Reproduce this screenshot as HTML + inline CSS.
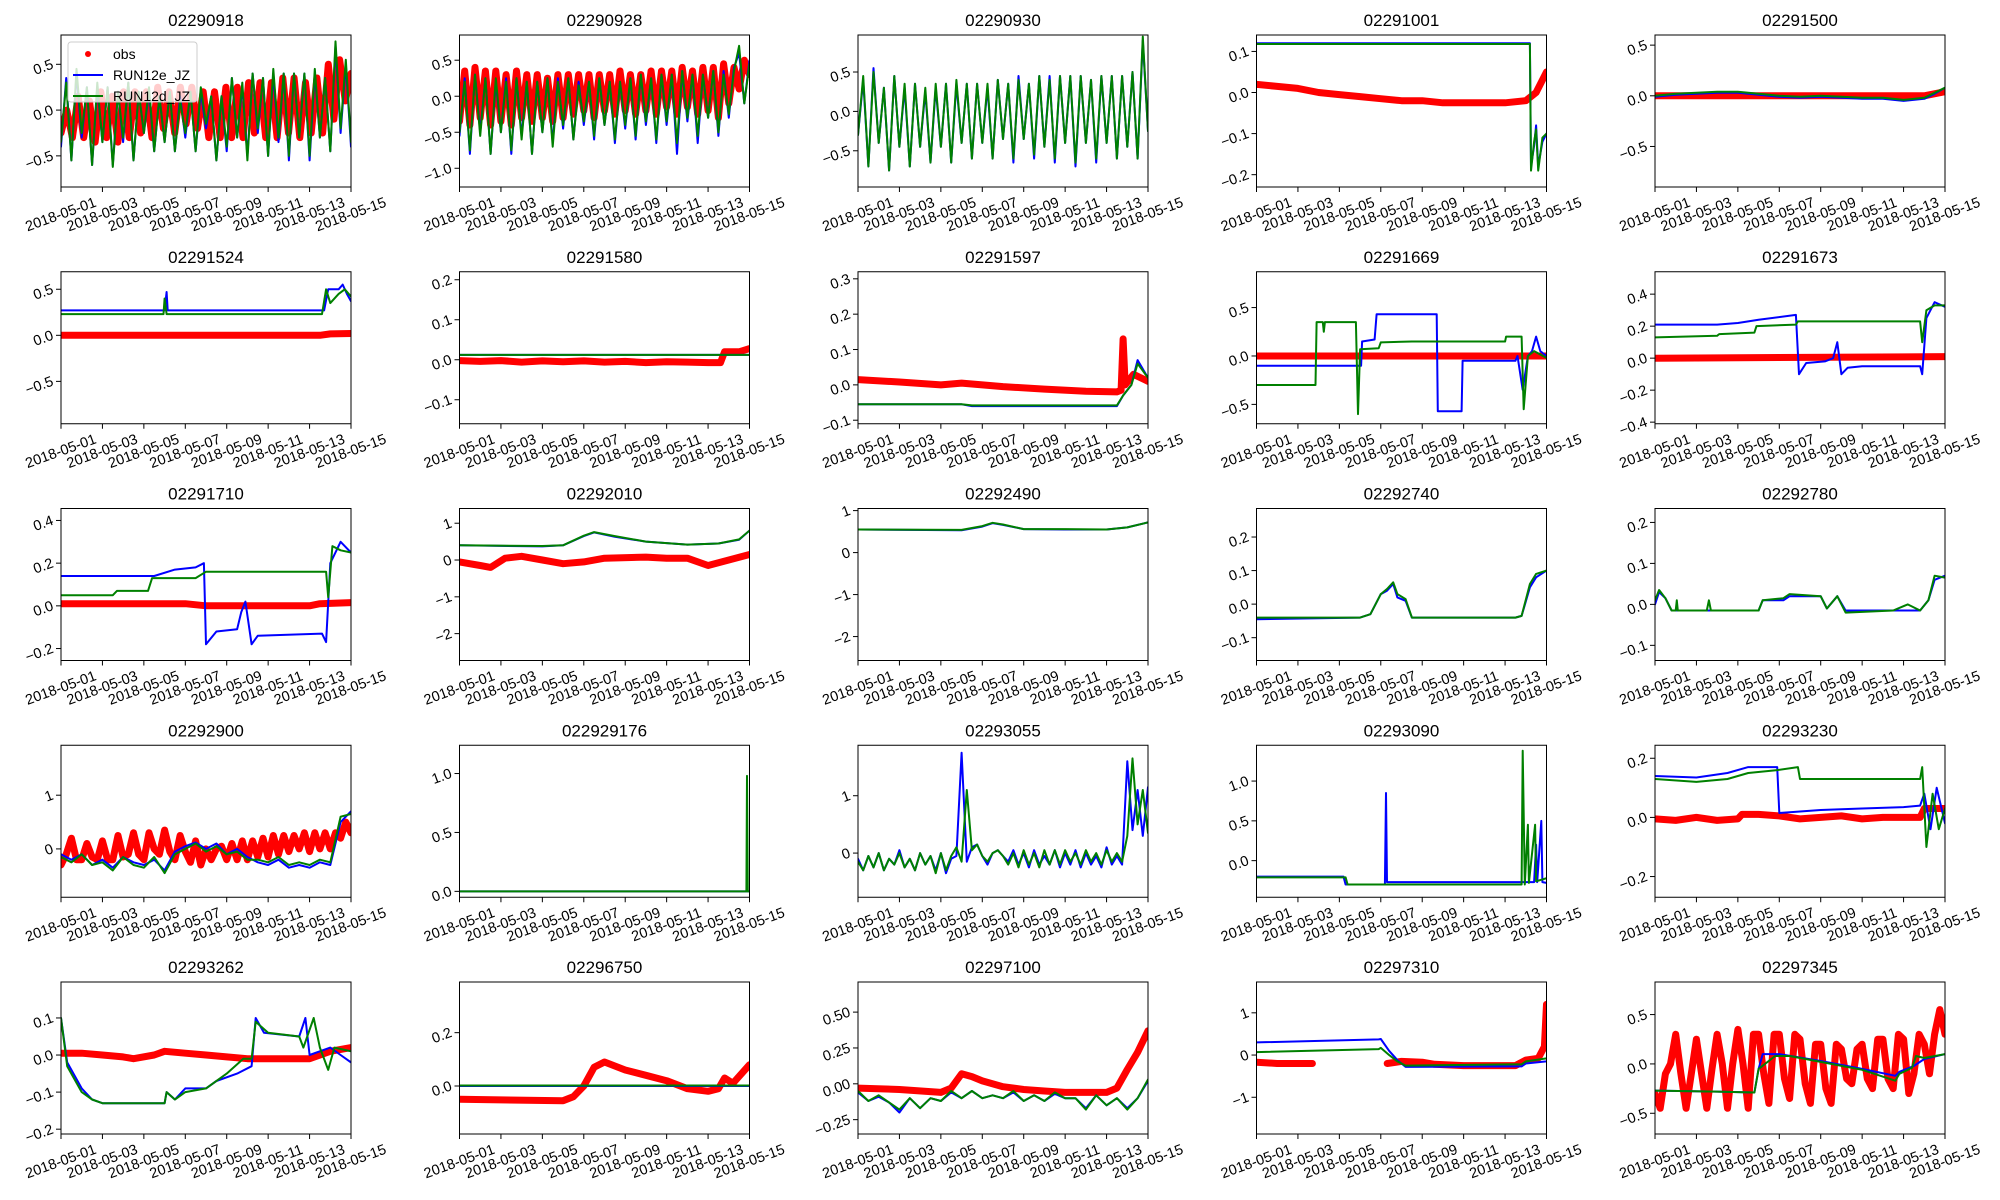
<!DOCTYPE html>
<html><head><meta charset="utf-8"><title>Station timeseries</title>
<style>
html,body{margin:0;padding:0;background:#fff;}
svg{display:block;font-family:"Liberation Sans","DejaVu Sans",sans-serif;}
</style></head>
<body>
<svg id="fig" width="2000" height="1200" viewBox="0 0 2000 1200" xmlns="http://www.w3.org/2000/svg"></svg>
<script>
// ---- data (days since 2018-05-01; uniform arrays span [0,14]) ----
const xTickLabels = ["2018-05-01","2018-05-03","2018-05-05","2018-05-07","2018-05-09","2018-05-11","2018-05-13","2018-05-15"];
const xTickDays = [0,2,4,6,8,10,12,14];
const titles = ["02290918","02290928","02290930","02291001","02291500","02291524","02291580","02291597","02291669","02291673","02291710","02292010","02292490","02292740","02292780","02292900","022929176","02293055","02293090","02293230","02293262","02296750","02297100","02297310","02297345"];
const yLims = [[-0.84,0.82],[-1.26,0.85],[-0.96,0.97],[-0.23,0.14],[-0.9,0.6],[-0.96,0.69],[-0.16,0.22],[-0.11,0.32],[-0.7,0.87],[-0.41,0.54],[-0.256,0.456],[-2.73,1.4],[-2.57,1.05],[-0.168,0.285],[-0.137,0.234],[-0.9,1.93],[-0.05,1.24],[-0.77,1.88],[-0.46,1.45],[-0.27,0.244],[-0.213,0.197],[-0.18,0.39],[-0.35,0.71],[-1.87,1.73],[-0.71,0.83]];
const yTicks = [[-0.5,0,0.5],[-1,-0.5,0,0.5],[-0.5,0,0.5],[-0.2,-0.1,0,0.1],[-0.5,0,0.5],[-0.5,0,0.5],[-0.1,0,0.1,0.2],[-0.1,0,0.1,0.2,0.3],[-0.5,0,0.5],[-0.4,-0.2,0,0.2,0.4],[-0.2,0,0.2,0.4],[-2,-1,0,1],[-2,-1,0,1],[-0.1,0,0.1,0.2],[-0.1,0,0.1,0.2],[0,1],[0,0.5,1],[0,1],[0,0.5,1],[-0.2,0,0.2],[-0.2,-0.1,0,0.1],[0,0.2],[-0.25,0,0.25,0.5],[-1,0,1],[-0.5,0,0.5]];
const yTickLabels = [["−0.5","0.0","0.5"],["−1.0","−0.5","0.0","0.5"],["−0.5","0.0","0.5"],["−0.2","−0.1","0.0","0.1"],["−0.5","0.0","0.5"],["−0.5","0.0","0.5"],["−0.1","0.0","0.1","0.2"],["−0.1","0.0","0.1","0.2","0.3"],["−0.5","0.0","0.5"],["−0.4","−0.2","0.0","0.2","0.4"],["−0.2","0.0","0.2","0.4"],["−2","−1","0","1"],["−2","−1","0","1"],["−0.1","0.0","0.1","0.2"],["−0.1","0.0","0.1","0.2"],["0","1"],["0.0","0.5","1.0"],["0","1"],["0.0","0.5","1.0"],["−0.2","0.0","0.2"],["−0.2","−0.1","0.0","0.1"],["0.0","0.2"],["−0.25","0.00","0.25","0.50"],["−1","0","1"],["−0.5","0.0","0.5"]];

// uniform series (evenly spread over days 0..14)
const g1 = [-0.35,0.3,-0.55,0.45,-0.25,0.25,-0.6,0.3,-0.35,0.25,-0.62,0.2,-0.3,0.3,-0.55,0.2,-0.25,0.25,-0.45,0.15,-0.35,0.2,-0.45,0.1,-0.25,0.2,-0.45,0.25,-0.15,0.15,-0.55,0.15,-0.4,0.35,-0.3,0.3,-0.55,0.4,-0.2,0.35,-0.5,0.45,-0.3,0.4,-0.5,0.4,-0.3,0.4,-0.5,0.45,-0.3,0.35,-0.45,0.75,-0.2,0.55,-0.35];
const b1 = [-0.4,0.35,-0.55,0.4,-0.3,0.25,-0.6,0.25,-0.35,0.25,-0.6,0.2,-0.35,0.3,-0.55,0.2,-0.25,0.2,-0.45,0.15,-0.35,0.2,-0.45,0.15,-0.3,0.2,-0.45,0.2,-0.2,0.15,-0.55,0.15,-0.45,0.35,-0.3,0.25,-0.5,0.4,-0.25,0.35,-0.5,0.4,-0.35,0.4,-0.55,0.4,-0.3,0.4,-0.55,0.4,-0.3,0.35,-0.45,0.7,-0.25,0.5,-0.4];
const o1 = [-0.25,0.0,-0.3,0.15,-0.3,0.1,-0.35,0.2,-0.3,0.15,-0.35,0.2,-0.3,0.2,-0.25,0.2,-0.3,0.25,-0.2,0.2,-0.25,0.25,-0.15,0.25,-0.2,0.2,-0.3,0.2,-0.3,0.25,-0.3,0.25,-0.3,0.3,-0.25,0.3,-0.3,0.3,-0.3,0.35,-0.25,0.35,-0.3,0.3,-0.25,0.35,-0.25,0.5,-0.1,0.55,0.1,0.4];
const g2 = [-0.5,0.2,-0.75,0.3,-0.55,0.25,-0.8,0.25,-0.5,0.2,-0.75,0.25,-0.6,0.2,-0.8,0.2,-0.5,0.25,-0.7,0.2,-0.4,0.25,-0.6,0.15,-0.35,0.2,-0.55,0.25,-0.4,0.2,-0.6,0.2,-0.4,0.25,-0.55,0.3,-0.35,0.25,-0.6,0.3,-0.35,0.3,-0.65,0.35,-0.3,0.3,-0.55,0.3,-0.3,0.35,-0.5,0.3,-0.25,0.35,0.7,-0.1,0.45];
const b2 = [-0.55,0.25,-0.8,0.3,-0.5,0.25,-0.8,0.2,-0.5,0.25,-0.8,0.25,-0.55,0.2,-0.8,0.2,-0.5,0.25,-0.65,0.25,-0.45,0.25,-0.6,0.2,-0.4,0.2,-0.6,0.25,-0.4,0.2,-0.65,0.2,-0.45,0.25,-0.6,0.3,-0.4,0.25,-0.65,0.3,-0.4,0.3,-0.8,0.35,-0.35,0.3,-0.65,0.3,-0.3,0.35,-0.55,0.35,-0.3,0.4,0.6,-0.1,0.5];
const o2 = [-0.35,0.35,-0.4,0.4,-0.3,0.35,-0.4,0.35,-0.35,0.3,-0.4,0.35,-0.3,0.3,-0.35,0.3,-0.3,0.25,-0.35,0.3,-0.3,0.3,-0.25,0.3,-0.2,0.3,-0.3,0.3,-0.2,0.3,-0.25,0.35,-0.2,0.3,-0.25,0.3,-0.2,0.35,-0.25,0.35,-0.15,0.35,-0.25,0.4,-0.15,0.35,-0.25,0.4,-0.2,0.4,-0.3,0.45,-0.1,0.4,0.1,0.5,0.3];
const g3 = [-0.3,0.45,-0.7,0.5,-0.4,0.3,-0.75,0.45,-0.45,0.35,-0.7,0.35,-0.45,0.3,-0.65,0.35,-0.45,0.35,-0.65,0.4,-0.4,0.35,-0.6,0.35,-0.4,0.35,-0.6,0.4,-0.35,0.35,-0.6,0.4,-0.35,0.35,-0.55,0.45,-0.45,0.4,-0.6,0.45,-0.4,0.45,-0.65,0.45,-0.4,0.4,-0.6,0.45,-0.4,0.45,-0.6,0.45,-0.45,0.5,-0.6,0.95,-0.25];
const b3 = [-0.3,0.4,-0.7,0.55,-0.4,0.3,-0.75,0.45,-0.45,0.3,-0.7,0.35,-0.45,0.25,-0.65,0.3,-0.45,0.35,-0.65,0.35,-0.4,0.35,-0.6,0.35,-0.4,0.3,-0.6,0.4,-0.35,0.35,-0.65,0.45,-0.35,0.35,-0.6,0.45,-0.45,0.45,-0.65,0.45,-0.4,0.45,-0.7,0.45,-0.4,0.4,-0.65,0.45,-0.4,0.45,-0.6,0.45,-0.45,0.5,-0.6,0.9,-0.25];
const g16 = [-0.15,-0.25,-0.1,-0.3,-0.25,-0.4,-0.15,-0.3,-0.35,-0.15,-0.45,-0.1,0.0,0.1,-0.05,0.05,-0.1,-0.05,-0.2,-0.2,-0.25,-0.15,-0.3,-0.25,-0.3,-0.2,-0.25,0.6,0.65];
const b16 = [-0.1,-0.2,-0.1,-0.3,-0.2,-0.35,-0.15,-0.25,-0.3,-0.2,-0.4,-0.05,0.05,0.12,0.0,0.1,-0.1,0.0,-0.15,-0.25,-0.3,-0.2,-0.35,-0.3,-0.35,-0.25,-0.3,0.5,0.7];
const o16 = [-0.3,-0.1,0.2,-0.2,-0.2,0.1,-0.15,-0.2,0.15,-0.2,-0.2,0.25,-0.15,-0.1,0.3,-0.1,-0.2,0.3,0.0,-0.1,0.35,-0.05,-0.2,0.25,-0.05,-0.25,0.15,-0.3,0.0,-0.2,0.0,0.05,-0.2,0.1,-0.2,0.15,-0.2,0.15,-0.15,0.2,-0.15,0.25,-0.1,0.25,-0.05,0.25,0.0,0.3,-0.05,0.3,0.0,0.3,0.0,0.3,0.2,0.5,0.3];
const b18 = [-0.1,-0.3,-0.05,-0.25,0.0,-0.3,-0.1,-0.2,0.05,-0.25,-0.1,-0.3,0.0,-0.2,-0.05,-0.3,0.0,-0.35,-0.1,-0.05,1.75,-0.15,0.1,0.15,-0.05,-0.2,0.0,0.05,-0.05,-0.15,0.05,-0.2,0.0,-0.25,0.05,-0.2,-0.05,-0.2,0.05,-0.25,0.0,-0.2,0.05,-0.25,0.0,-0.2,-0.05,-0.25,0.1,-0.2,-0.05,-0.2,1.6,0.4,1.1,0.3,1.15];
const g18 = [-0.15,-0.3,-0.05,-0.25,0.0,-0.3,-0.1,-0.2,0.0,-0.25,-0.1,-0.3,0.0,-0.2,-0.05,-0.35,0.0,-0.3,-0.05,0.1,-0.15,1.1,0.05,0.15,-0.05,-0.15,0.0,0.05,-0.05,-0.2,0.0,-0.25,0.05,-0.2,0.0,-0.25,0.05,-0.2,0.05,-0.2,0.05,-0.15,0.0,-0.2,0.05,-0.15,0.0,-0.2,0.05,-0.15,0.0,-0.15,0.3,1.65,0.5,1.1,0.35];
const g23 = [-0.05,-0.12,-0.08,-0.13,-0.18,-0.1,-0.17,-0.1,-0.12,-0.05,-0.1,-0.05,-0.1,-0.08,-0.1,-0.05,-0.12,-0.08,-0.12,-0.06,-0.1,-0.1,-0.18,-0.08,-0.15,-0.1,-0.18,-0.1,0.03];
const b23 = [-0.06,-0.12,-0.09,-0.13,-0.2,-0.1,-0.17,-0.1,-0.12,-0.06,-0.1,-0.05,-0.1,-0.08,-0.1,-0.06,-0.12,-0.08,-0.12,-0.07,-0.1,-0.1,-0.17,-0.08,-0.15,-0.1,-0.17,-0.1,0.02];
const o25 = [-0.3,-0.45,-0.1,0.0,0.3,-0.1,-0.45,-0.1,0.25,-0.1,-0.45,-0.05,0.3,0.0,-0.45,0.0,0.35,0.0,-0.45,0.3,0.3,-0.1,-0.4,0.3,0.3,-0.15,-0.35,0.3,0.25,-0.2,-0.4,0.2,0.2,-0.25,-0.4,0.2,0.15,-0.15,-0.2,0.15,0.2,-0.15,-0.25,0.25,0.25,-0.15,-0.25,0.3,0.25,-0.3,-0.1,0.3,0.2,-0.1,0.3,0.55,0.3];

// [day, value] series (null value = gap)
const b4 = [[0,0.12],[13.2,0.12],[13.25,-0.18],[13.4,-0.13],[13.5,-0.08],[13.6,-0.18],[13.8,-0.12],[14,-0.1]];
const g4 = [[0,0.118],[13.2,0.118],[13.25,-0.19],[13.4,-0.12],[13.5,-0.09],[13.6,-0.19],[13.8,-0.11],[14,-0.1]];
const o4 = [[0,0.02],[1,0.015],[2,0.01],[3,0.0],[4,-0.005],[5,-0.01],[6,-0.015],[7,-0.02],[8,-0.02],[9,-0.025],[10,-0.025],[11,-0.025],[12,-0.025],[13,-0.02],[13.5,0.0],[14,0.05]];
const b5 = [[0,-0.01],[1,0.01],[2,0.02],[3,0.03],[4,0.03],[5,0.01],[6,-0.01],[7,-0.02],[8,-0.01],[9,-0.02],[10,-0.03],[11,-0.03],[12,-0.05],[13,-0.03],[13.5,0.02],[14,0.08]];
const g5 = [[0,0],[1,0.02],[2,0.03],[3,0.04],[4,0.04],[5,0.02],[6,0],[7,-0.01],[8,0],[9,-0.01],[10,-0.02],[11,-0.02],[12,-0.04],[13,-0.02],[13.5,0.03],[14,0.08]];
const o5 = [[0,0.0],[13,0.0],[14,0.04]];
const b6 = [[0,0.27],[5.0,0.27],[5.1,0.47],[5.15,0.27],[12.7,0.27],[12.9,0.5],[13.4,0.5],[13.6,0.55],[13.8,0.45],[14,0.37]];
const g6 = [[0,0.23],[4.95,0.23],[5.0,0.4],[5.1,0.23],[12.6,0.23],[12.8,0.5],[13,0.35],[13.4,0.45],[13.7,0.5],[14,0.42]];
const o6 = [[0,0],[12.5,0],[13,0.015],[14,0.02]];
const b7 = [[0,0.012],[14,0.012]];
const g7 = [[0,0.012],[14,0.012]];
const o7 = [[0,-0.002],[1,-0.004],[2,-0.002],[3,-0.006],[4,-0.003],[5,-0.005],[6,-0.003],[7,-0.006],[8,-0.004],[9,-0.007],[10,-0.005],[11,-0.006],[12,-0.007],[12.6,-0.007],[12.8,0.02],[13.5,0.02],[14,0.028]];
const b8 = [[0,-0.055],[5,-0.055],[5.5,-0.06],[12.5,-0.06],[12.8,-0.03],[13.2,0.0],[13.5,0.07],[14,0.02]];
const g8 = [[0,-0.055],[5,-0.055],[5.5,-0.058],[12.5,-0.058],[12.8,-0.03],[13.2,0.0],[13.5,0.06],[14,0.02]];
const o8 = [[0,0.015],[2,0.008],[4,0.0],[5,0.005],[7,-0.005],[9,-0.012],[11,-0.018],[12.5,-0.02],[12.7,-0.015],[12.8,0.13],[12.9,0.0],[13.3,0.03],[14,0.01]];
const b9 = [[0,-0.1],[5.05,-0.1],[5.1,0.15],[5.7,0.17],[5.8,0.43],[8.7,0.43],[8.75,-0.57],[9.9,-0.57],[9.95,-0.05],[12.5,-0.05],[12.6,0.0],[12.85,-0.35],[13.1,0.0],[13.3,0.05],[13.5,0.2],[13.7,0.05],[14,0.0]];
const g9 = [[0,-0.3],[2.85,-0.3],[2.9,0.35],[3.2,0.35],[3.25,0.25],[3.3,0.35],[4.8,0.35],[4.9,-0.6],[5.0,0.07],[5.9,0.08],[6.0,0.14],[7.5,0.15],[12.0,0.15],[12.05,0.2],[12.8,0.2],[12.9,-0.55],[13.1,0.0],[13.4,0.05],[14,-0.02]];
const o9 = [[0,0.0],[14,0.0]];
const b10 = [[0,0.21],[3,0.21],[4,0.22],[5,0.24],[6.8,0.27],[6.95,-0.1],[7.3,-0.03],[8.2,-0.02],[8.6,0.0],[8.8,0.1],[9.0,-0.1],[9.3,-0.06],[10,-0.05],[12.8,-0.05],[12.9,-0.1],[13.1,0.25],[13.5,0.35],[14,0.32]];
const g10 = [[0,0.13],[3,0.14],[3.1,0.15],[4.8,0.16],[4.9,0.2],[6.8,0.21],[6.9,0.23],[12.8,0.23],[12.9,0.1],[13.1,0.3],[13.5,0.33],[14,0.33]];
const o10 = [[0,0.0],[14,0.01]];
const b11 = [[0,0.14],[4.5,0.14],[5.5,0.17],[6.5,0.18],[6.9,0.2],[7.0,-0.18],[7.5,-0.12],[8.5,-0.11],[8.7,-0.03],[8.9,0.02],[9.2,-0.18],[9.5,-0.14],[12.6,-0.13],[12.8,-0.17],[13.0,0.2],[13.5,0.3],[14,0.25]];
const g11 = [[0,0.05],[2.5,0.05],[2.7,0.07],[4.2,0.07],[4.4,0.13],[6.5,0.13],[7.0,0.16],[12.8,0.16],[12.9,0.04],[13.1,0.28],[13.5,0.26],[14,0.25]];
const o11 = [[0,0.01],[6,0.01],[7,0.0],[9,0.0],[12,0.0],[12.5,0.01],[14,0.015]];
const b12 = [[0,0.4],[4,0.37],[5,0.4],[6,0.65],[6.5,0.75],[7.5,0.63],[9,0.5],[11,0.42],[12.5,0.45],[13.5,0.55],[14,0.8]];
const g12 = [[0,0.4],[4,0.38],[5,0.4],[6,0.66],[6.5,0.76],[7.5,0.65],[9,0.5],[11,0.42],[12.5,0.45],[13.5,0.56],[14,0.8]];
const o12 = [[0,-0.05],[1,-0.15],[1.5,-0.2],[2.2,0.05],[3,0.1],[4,0.0],[5,-0.1],[6,-0.05],[7,0.05],[9,0.08],[10,0.05],[11,0.05],[12,-0.15],[13,0.0],[14,0.15]];
const b13 = [[0,0.55],[5,0.53],[6,0.62],[6.5,0.7],[7,0.66],[8,0.56],[10,0.55],[12,0.55],[13,0.6],[14,0.72]];
const g13 = [[0,0.55],[5,0.54],[6,0.63],[6.5,0.71],[7,0.67],[8,0.56],[10,0.56],[12,0.55],[13,0.6],[14,0.72]];
const b14 = [[0,-0.045],[5,-0.04],[5.5,-0.03],[6,0.03],[6.3,0.04],[6.6,0.06],[6.8,0.02],[7.2,0.01],[7.5,-0.04],[12.5,-0.04],[12.8,-0.035],[13.2,0.05],[13.5,0.08],[14,0.1]];
const g14 = [[0,-0.04],[5,-0.04],[5.5,-0.03],[6,0.03],[6.3,0.045],[6.6,0.065],[6.8,0.03],[7.2,0.015],[7.5,-0.04],[12.5,-0.04],[12.8,-0.035],[13.2,0.06],[13.5,0.09],[14,0.1]];
const b15 = [[0,0.0],[0.2,0.03],[0.5,0.015],[0.8,-0.015],[5.0,-0.015],[5.2,0.01],[6.2,0.01],[6.5,0.02],[8.0,0.02],[8.3,-0.01],[8.8,0.02],[9.2,-0.015],[10.5,-0.015],[12.8,-0.015],[13.2,0.01],[13.5,0.06],[14,0.07]];
const g15 = [[0,0.01],[0.2,0.035],[0.5,0.015],[0.8,-0.015],[1.0,-0.015],[1.05,0.01],[1.1,-0.015],[2.5,-0.015],[2.6,0.01],[2.7,-0.015],[5.0,-0.015],[5.2,0.01],[6.2,0.015],[6.5,0.025],[8.0,0.02],[8.3,-0.01],[8.8,0.02],[9.2,-0.02],[11.5,-0.015],[12.2,0.0],[12.8,-0.015],[13.2,0.01],[13.5,0.07],[14,0.065]];
const b17 = [[0,0],[13.85,0],[13.9,0.0],[14,0]];
const g17 = [[0,0],[13.85,0],[13.88,0.98],[13.92,0],[14,0]];
const b19 = [[0,-0.2],[4.2,-0.2],[4.3,-0.3],[6.2,-0.3],[6.25,0.85],[6.3,-0.27],[13.4,-0.27],[13.5,0.2],[13.55,-0.27],[13.75,0.5],[13.8,-0.27],[14,-0.28]];
const g19 = [[0,-0.21],[4.3,-0.21],[4.4,-0.3],[12.8,-0.3],[12.85,1.38],[12.95,-0.3],[13.1,0.45],[13.15,-0.28],[13.45,0.45],[13.5,-0.26],[14,-0.22]];
const b20 = [[0,0.14],[2,0.135],[3.5,0.15],[4.5,0.17],[5.9,0.17],[6.0,0.015],[8,0.025],[10,0.03],[12,0.035],[12.8,0.04],[13,0.08],[13.3,-0.04],[13.6,0.1],[14,-0.02]];
const g20 = [[0,0.13],[2,0.12],[3.5,0.13],[4.5,0.15],[5.9,0.16],[6.9,0.17],[7.0,0.13],[12.8,0.13],[12.9,0.17],[13.1,-0.1],[13.4,0.08],[13.7,-0.04],[14,0.03]];
const o20 = [[0,-0.005],[1,-0.01],[2,0.0],[3,-0.01],[4,-0.005],[4.2,0.01],[5,0.01],[6,0.005],[7,-0.005],[8,0.0],[9,0.005],[10,-0.005],[11,0.0],[12,0.0],[12.8,0.0],[13,0.03],[14,0.03]];
const b21 = [[0,0.1],[0.3,-0.02],[1,-0.09],[1.5,-0.12],[2,-0.13],[5,-0.13],[5.1,-0.1],[5.5,-0.12],[6,-0.09],[7,-0.09],[7.5,-0.07],[8.5,-0.05],[9.2,-0.03],[9.4,0.1],[9.8,0.06],[11.5,0.05],[11.8,0.1],[12,0.0],[13,0.02],[13.5,0.0],[14,-0.02]];
const g21 = [[0,0.1],[0.3,-0.03],[1,-0.1],[1.5,-0.12],[2,-0.13],[5,-0.13],[5.1,-0.1],[5.5,-0.12],[6,-0.1],[7,-0.09],[8,-0.05],[8.8,-0.01],[9.2,-0.01],[9.4,0.09],[10,0.06],[11.5,0.05],[11.7,0.02],[12.2,0.1],[12.5,0.02],[12.9,-0.04],[13.2,0.02],[14,0.01]];
const o21 = [[0,0.005],[1,0.005],[2,0.0],[3,-0.005],[3.5,-0.01],[4.5,0.0],[5,0.01],[6,0.005],[7,0.0],[8,-0.005],[9,-0.01],[10,-0.01],[11,-0.01],[12,-0.01],[13,0.01],[14,0.02]];
const b22 = [[0,0.0],[14,0.0]];
const g22 = [[0,0.002],[14,0.002]];
const o22 = [[0,-0.05],[5,-0.055],[5.5,-0.04],[6,0.0],[6.5,0.07],[7,0.09],[8,0.06],[9,0.04],[10,0.02],[11,-0.01],[12,-0.02],[12.5,-0.01],[12.8,0.03],[13.2,0.01],[14,0.08]];
const o23 = [[0,-0.03],[2,-0.04],[4,-0.06],[4.5,-0.03],[5,0.07],[5.5,0.05],[6,0.02],[7,-0.02],[8,-0.04],[9,-0.05],[10,-0.06],[11,-0.06],[12,-0.06],[12.5,-0.03],[13,0.1],[13.5,0.22],[14,0.37]];
const b24 = [[0,0.3],[5.9,0.37],[6.0,0.38],[6.4,0.1],[6.8,-0.12],[7.2,-0.28],[12.8,-0.27],[13.0,-0.2],[14,-0.15]];
const g24 = [[0,0.07],[5.9,0.14],[6.0,0.17],[6.4,0.0],[6.8,-0.15],[7.2,-0.25],[12.8,-0.22],[13.0,-0.15],[14,-0.08]];
const o24 = [[0,-0.17],[1,-0.2],[2.7,-0.2],[2.71,null],[6.3,null],[6.31,-0.2],[7,-0.15],[8,-0.17],[8.6,-0.22],[10,-0.25],[12.5,-0.25],[13,-0.12],[13.6,-0.08],[13.9,0.2],[14,1.2]];
const b25 = [[0,-0.27],[3,-0.28],[4.8,-0.29],[5.0,-0.05],[5.2,0.1],[6,0.1],[8,0.03],[10,-0.05],[11.6,-0.12],[11.8,-0.08],[12.5,-0.02],[13,0.05],[14,0.1]];
const g25 = [[0,-0.27],[3,-0.28],[4.8,-0.29],[5.0,-0.05],[5.8,0.08],[6.5,0.08],[8,0.02],[10,-0.06],[11.6,-0.17],[11.8,-0.1],[12.4,-0.04],[12.6,0.08],[13,0.06],[14,0.1]];

const obsSeries = [o1,o2,null,o4,o5,o6,o7,o8,o9,o10,o11,o12,null,null,null,o16,null,null,null,o20,o21,o22,o23,o24,o25];
const blueSeries = [b1,b2,b3,b4,b5,b6,b7,b8,b9,b10,b11,b12,b13,b14,b15,b16,b17,b18,b19,b20,b21,b22,b23,b24,b25];
const greenSeries = [g1,g2,g3,g4,g5,g6,g7,g8,g9,g10,g11,g12,g13,g14,g15,g16,g17,g18,g19,g20,g21,g22,g23,g24,g25];

// ---- drawing ----
const NS = "http://www.w3.org/2000/svg";
const svg = document.getElementById('fig');
function mk(tag, attrs, parent){ const e=document.createElementNS(NS,tag); for(const k in attrs) e.setAttribute(k,attrs[k]); (parent||svg).appendChild(e); return e; }
function toPairs(s){ if(typeof s[0]==='number'){ const n=s.length; return s.map((v,i)=>[14*i/(n-1),v]); } return s; }

const AX_W = 290, AX_H = 152, X0 = 61, Y0 = 35, DX = 398.5, DY = 236.75;
for(let i=0;i<25;i++){
  const r = Math.floor(i/5), c = i%5;
  const L = X0 + c*DX, T = Y0 + r*DY;
  const [ymin,ymax] = yLims[i];
  const xs = d => L + d/14*AX_W;
  const ys = v => T + (ymax - v)/(ymax - ymin)*AX_H;
  const g = mk('g',{});
  
  
  const clipId = 'clip'+i;
  const cp = mk('clipPath',{id:clipId},g); mk('rect',{x:L,y:T,width:AX_W,height:AX_H},cp);
  const title = mk('text',{x:L+AX_W/2,y:T-9,'text-anchor':'middle','font-size':17,fill:'#000'},g);
  title.textContent = titles[i];
  
  
  const plot = mk('g',{'clip-path':'url(#'+clipId+')'},g);
  function draw(series, color, w, name){
    if(!series) return;
    const pts = toPairs(series);
    let d = '', pen = false;
    for(const [t,v] of pts){
      if(v===null){ pen=false; continue; }
      d += (pen?'L':'M') + xs(t).toFixed(1) + ' ' + ys(v).toFixed(1) + ' ';
      pen = true;
    }
    const p = mk('path',{d:d,fill:'none',stroke:color,'stroke-width':w,'stroke-linejoin':'round','stroke-linecap':'round'},plot);
    
    
  }
  draw(obsSeries[i],'#ff0000',7,'obs-series');
  draw(blueSeries[i],'#0000ff',2,'run12e-series');
  draw(greenSeries[i],'#008000',2,'run12d-series');
  const frame = mk('rect',{x:L,y:T,width:AX_W,height:AX_H,fill:'none',stroke:'#000','stroke-width':1},g);
  
  
  // x ticks
  xTickDays.forEach((d,k)=>{
    const x = xs(d);
    mk('line',{x1:x,x2:x,y1:T+AX_H,y2:T+AX_H+5,stroke:'#000','stroke-width':1},g);
    const cy = T+AX_H+28;
    const tx = mk('text',{x:x,y:cy,'text-anchor':'middle','dominant-baseline':'central','font-size':14.5,fill:'#000',transform:'rotate(-20 '+x+' '+cy+')'},g);
    tx.textContent = xTickLabels[k];
    
    
  });
  // y ticks
  yTicks[i].forEach((v,k)=>{
    const y = ys(v);
    mk('line',{x1:L-5,x2:L,y1:y,y2:y,stroke:'#000','stroke-width':1},g);
    const ax = L-8;
    const ty = mk('text',{x:ax,y:y,'text-anchor':'end','dominant-baseline':'central','font-size':14.5,fill:'#000',transform:'rotate(-20 '+ax+' '+y+')'},g);
    ty.textContent = yTickLabels[i][k];
    
    
  });
}
// legend in first panel
const lg = mk('g',{});


mk('rect',{x:68,y:42,width:129,height:60,rx:3,fill:'#fff','fill-opacity':0.8,stroke:'#ccc','stroke-width':1},lg);
const e1 = mk('g',{},lg);


mk('circle',{cx:88,cy:54,r:3,fill:'#ff0000'},e1);
const t1 = mk('text',{x:113,y:54,'dominant-baseline':'central','font-size':14,fill:'#000'},e1); t1.textContent='obs';
const e2 = mk('g',{},lg);


mk('line',{x1:73,x2:103,y1:75,y2:75,stroke:'#0000ff','stroke-width':2},e2);
const t2 = mk('text',{x:113,y:75,'dominant-baseline':'central','font-size':14,fill:'#000'},e2); t2.textContent='RUN12e_JZ';
const e3 = mk('g',{},lg);


mk('line',{x1:73,x2:103,y1:96,y2:96,stroke:'#008000','stroke-width':2},e3);
const t3 = mk('text',{x:113,y:96,'dominant-baseline':'central','font-size':14,fill:'#000'},e3); t3.textContent='RUN12d_JZ';
</script>
</body></html>
